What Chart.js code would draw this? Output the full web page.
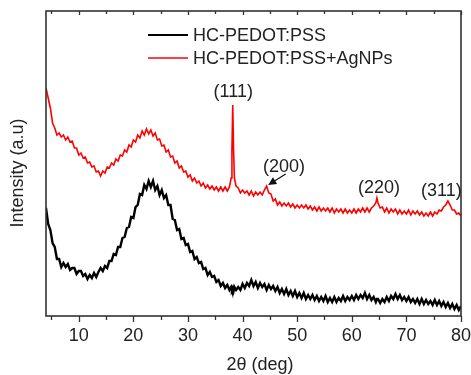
<!DOCTYPE html>
<html lang="en">
<head>
  <meta charset="UTF-8" />
  <title>XRD patterns</title>
  <script src="https://cdn.jsdelivr.net/npm/chart.js"></script>
  <style>
    html, body { margin: 0; padding: 0; background: #fff; overflow: hidden; }
    canvas { display: block; }
  </style>
</head>
<body>
  <canvas id="xrdChart" width="471" height="375"></canvas>

  <script>
    // 2theta sampling (deg), extra points around the Ag (111) peak and (220)
    const twoTheta = [
      4.0, 4.4, 4.8, 5.2, 5.6, 6.0, 6.4, 6.8, 7.2, 7.6, 8.0, 8.4, 8.8, 9.2, 9.6,
      10.0, 10.4, 10.8, 11.2, 11.6, 12.0, 12.4, 12.8, 13.2, 13.6, 14.0, 14.4, 14.8, 15.2, 15.6,
      16.0, 16.4, 16.8, 17.2, 17.6, 18.0, 18.4, 18.8, 19.2, 19.6, 20.0, 20.4, 20.8, 21.2, 21.6,
      22.0, 22.4, 22.8, 23.2, 23.6, 24.0, 24.4, 24.8, 25.2, 25.6, 26.0, 26.4, 26.8, 27.2, 27.6,
      28.0, 28.4, 28.8, 29.2, 29.6, 30.0, 30.4, 30.8, 31.2, 31.6, 32.0, 32.4, 32.8, 33.2, 33.6,
      34.0, 34.4, 34.8, 35.2, 35.6, 36.0, 36.4, 36.8, 37.2, 37.6,
      37.9, 38.05, 38.2, 38.35, 38.5, 38.8,
      39.2, 39.6, 40.0, 40.4, 40.8, 41.2, 41.6, 42.0, 42.4, 42.8, 43.2, 43.6, 44.0, 44.4, 44.8,
      45.2, 45.6, 46.0, 46.4, 46.8, 47.2, 47.6, 48.0, 48.4, 48.8, 49.2, 49.6, 50.0, 50.4, 50.8,
      51.2, 51.6, 52.0, 52.4, 52.8, 53.2, 53.6, 54.0, 54.4, 54.8, 55.2, 55.6, 56.0, 56.4, 56.8,
      57.2, 57.6, 58.0, 58.4, 58.8, 59.2, 59.6, 60.0, 60.4, 60.8, 61.2, 61.6, 62.0, 62.4, 62.8,
      63.2, 63.6, 64.0, 64.4,
      64.6,
      64.8, 65.2, 65.6, 66.0, 66.4, 66.8, 67.2, 67.6, 68.0, 68.4, 68.8, 69.2, 69.6, 70.0, 70.4,
      70.8, 71.2, 71.6, 72.0, 72.4, 72.8, 73.2, 73.6, 74.0, 74.4, 74.8, 75.2, 75.6, 76.0, 76.4,
      76.8, 77.2, 77.6, 78.0, 78.4, 78.8, 79.2, 79.6, 80.0
    ];

    // intensity (a.u.), HC-PEDOT:PSS
    const pedotPss = [
      108, 92, 86, 73, 69, 57, 57, 49, 53, 49, 52, 46, 48, 48, 42,
      45, 45, 40, 42, 37, 41, 38, 43, 39, 44, 48, 45, 50, 48, 55,
      55, 62, 61, 69, 69, 78, 79, 88, 89, 99, 98, 109, 111, 122, 121,
      131, 127, 135, 129, 135, 126, 130, 121, 126, 118, 121, 111, 111, 97, 96,
      86, 87, 77, 78, 71, 72, 64, 65, 57, 59, 53, 54, 47, 48, 41,
      44, 39, 40, 34, 36, 30, 33, 28, 31, 26,
      29, 26, 28, 25, 29, 26,
      29, 26, 32, 28, 33, 30, 36, 30, 34, 28, 33, 29, 32, 26, 31,
      27, 30, 25, 29, 23, 27, 22, 27, 21, 25, 20, 25, 19, 23, 18,
      23, 17, 21, 17, 21, 16, 20, 15, 19, 15, 20, 14, 18, 14, 19,
      14, 18, 15, 20, 15, 19, 16, 20, 16, 21, 17, 21, 18, 23, 17,
      21, 16, 19, 14,
      17,
      17, 13, 17, 14, 19, 15, 20, 17, 22, 17, 21, 16, 19, 15, 19,
      14, 17, 13, 17, 12, 17, 12, 16, 12, 15, 11, 16, 11, 15, 10,
      14, 9, 13, 8, 12, 7, 11, 6, 10
    ];

    // intensity (a.u.), HC-PEDOT:PSS+AgNPs
    const pedotPssAg = [
      228, 218, 208, 193, 188, 181, 183, 179, 181, 176, 179, 174, 175, 168, 168,
      161, 163, 158, 159, 153, 154, 149, 150, 144, 145, 140, 145, 143, 149, 148,
      153, 151, 157, 155, 161, 160, 166, 164, 171, 169, 176, 174, 181, 178, 185,
      181, 187, 182, 186, 180, 183, 176, 177, 170, 171, 164, 166, 159, 160, 153,
      155, 148, 150, 144, 145, 139, 141, 135, 138, 133, 135, 130, 133, 128, 131,
      127, 130, 126, 129, 125, 129, 125, 129, 125, 129,
      138, 166, 211, 166, 138, 130,
      128, 123, 126, 123, 125, 121, 125, 120, 124, 121, 124, 121, 126, 130, 123,
      122, 115, 117, 111, 114, 110, 113, 110, 113, 109, 112, 108, 111, 108, 111,
      108, 111, 107, 110, 106, 109, 105, 109, 105, 108, 105, 108, 104, 108, 103,
      107, 104, 107, 103, 107, 103, 106, 103, 107, 103, 107, 104, 108, 104, 108,
      104, 108, 110, 113,
      118,
      113, 108, 109, 104, 108, 103, 107, 104, 107, 102, 106, 102, 105, 102, 106,
      101, 105, 102, 105, 101, 104, 100, 103, 100, 104, 100, 104, 102, 106, 105,
      109, 111, 115, 111, 106, 106, 102, 103, 100
    ];

    const xTicks = [10, 20, 30, 40, 50, 60, 70, 80];
    const xMinorTicks = [5, 15, 25, 35, 45, 55, 65, 75];

    // hkl labels: [text, 2theta, intensity]
    const peakLabels = [
      ['(111)', 38.3, 224],
      ['(200)', 47.6, 149],
      ['(220)', 65.0, 128],
      ['(311)', 76.4, 125]
    ];

    const FONT = '"Liberation Sans", Arial, sans-serif';
    const INK = '#222';

    const toPoints = (ys) => ys.map((y, i) => ({ x: twoTheta[i], y: y }));

    // frame, ticks, legend, labels and axis titles
    const decor = {
      id: 'decor',
      afterDraw(chart) {
        const ctx = chart.ctx;
        const area = chart.chartArea;
        const sx = chart.scales.x;
        const sy = chart.scales.y;
        ctx.save();

        // ticks: outward at the bottom, inward at the top
        ctx.strokeStyle = '#333';
        ctx.lineWidth = 1.3;
        const tick = (v, len, lenTop) => {
          const px = Math.round(sx.getPixelForValue(v)) + 0.5;
          ctx.beginPath();
          ctx.moveTo(px, area.bottom);
          ctx.lineTo(px, area.bottom + len);
          ctx.moveTo(px, area.top);
          ctx.lineTo(px, area.top + lenTop);
          ctx.stroke();
        };
        xTicks.forEach(v => tick(v, 6, 4));
        xMinorTicks.forEach(v => tick(v, 4, 3));

        // frame
        ctx.lineWidth = 1.6;
        ctx.strokeStyle = '#333';
        ctx.strokeRect(area.left, area.top, area.right - area.left, area.bottom - area.top);

        // legend
        ctx.font = '18px ' + FONT;
        ctx.textBaseline = 'middle';
        ctx.textAlign = 'left';
        chart.data.datasets.forEach((ds, i) => {
          const y = 35 + i * 23;
          ctx.strokeStyle = ds.borderColor;
          ctx.lineWidth = i === 0 ? 2 : 1.5;
          ctx.beginPath();
          ctx.moveTo(148, y);
          ctx.lineTo(188, y);
          ctx.stroke();
          ctx.fillStyle = INK;
          ctx.fillText(ds.label, 193, y + 1);
        });

        // peak labels
        ctx.textAlign = 'center';
        peakLabels.forEach(([t, x, y]) => {
          ctx.fillText(t, sx.getPixelForValue(x), sy.getPixelForValue(y));
        });

        // arrow from (200) label to the peak
        const ax0 = sx.getPixelForValue(47.9), ay0 = sy.getPixelForValue(142);
        const ax1 = sx.getPixelForValue(44.7), ay1 = sy.getPixelForValue(131);
        const ang = Math.atan2(ay1 - ay0, ax1 - ax0);
        ctx.strokeStyle = '#111';
        ctx.fillStyle = '#111';
        ctx.lineWidth = 1.2;
        ctx.beginPath();
        ctx.moveTo(ax0, ay0);
        ctx.lineTo(ax1 - 5 * Math.cos(ang), ay1 - 5 * Math.sin(ang));
        ctx.stroke();
        ctx.beginPath();
        ctx.moveTo(ax1, ay1);
        ctx.lineTo(ax1 - 8 * Math.cos(ang) + 4 * Math.sin(ang), ay1 - 8 * Math.sin(ang) - 4 * Math.cos(ang));
        ctx.lineTo(ax1 - 8 * Math.cos(ang) - 4 * Math.sin(ang), ay1 - 8 * Math.sin(ang) + 4 * Math.cos(ang));
        ctx.closePath();
        ctx.fill();

        // axis titles
        ctx.fillStyle = INK;
        ctx.font = '18px ' + FONT;
        ctx.textBaseline = 'middle';
        ctx.fillText('2\u03b8 (deg)', 260, 365);
        ctx.translate(18, 173);
        ctx.rotate(-Math.PI / 2);
        ctx.fillText('Intensity (a.u)', 0, 0);

        ctx.restore();
      }
    };

    new Chart(document.getElementById('xrdChart'), {
      type: 'line',
      data: {
        datasets: [
          {
            label: 'HC-PEDOT:PSS',
            data: toPoints(pedotPss),
            borderColor: '#000',
            borderWidth: 2.4,
            pointRadius: 0,
            tension: 0
          },
          {
            label: 'HC-PEDOT:PSS+AgNPs',
            data: toPoints(pedotPssAg),
            borderColor: '#ff0000',
            borderWidth: 1.6,
            pointRadius: 0,
            tension: 0
          }
        ]
      },
      options: {
        responsive: false,
        animation: false,
        layout: { padding: { left: 46, top: 11, right: 10, bottom: 0 } },
        plugins: {
          legend: { display: false },
          tooltip: { enabled: false }
        },
        scales: {
          x: {
            type: 'linear',
            min: 4,
            max: 80,
            grid: { display: false, drawTicks: false },
            border: { display: false },
            afterBuildTicks: (scale) => { scale.ticks = xTicks.map(v => ({ value: v })); },
            afterFit: (scale) => {
              scale.height = 59;
              scale.paddingLeft = 0;
              scale.paddingRight = 0;
            },
            ticks: {
              padding: 9,
              color: INK,
              font: { family: FONT, size: 18 },
              maxRotation: 0
            }
          },
          y: {
            display: false,
            min: 0,
            max: 305
          }
        }
      },
      plugins: [decor]
    });
  </script>
</body>
</html>
